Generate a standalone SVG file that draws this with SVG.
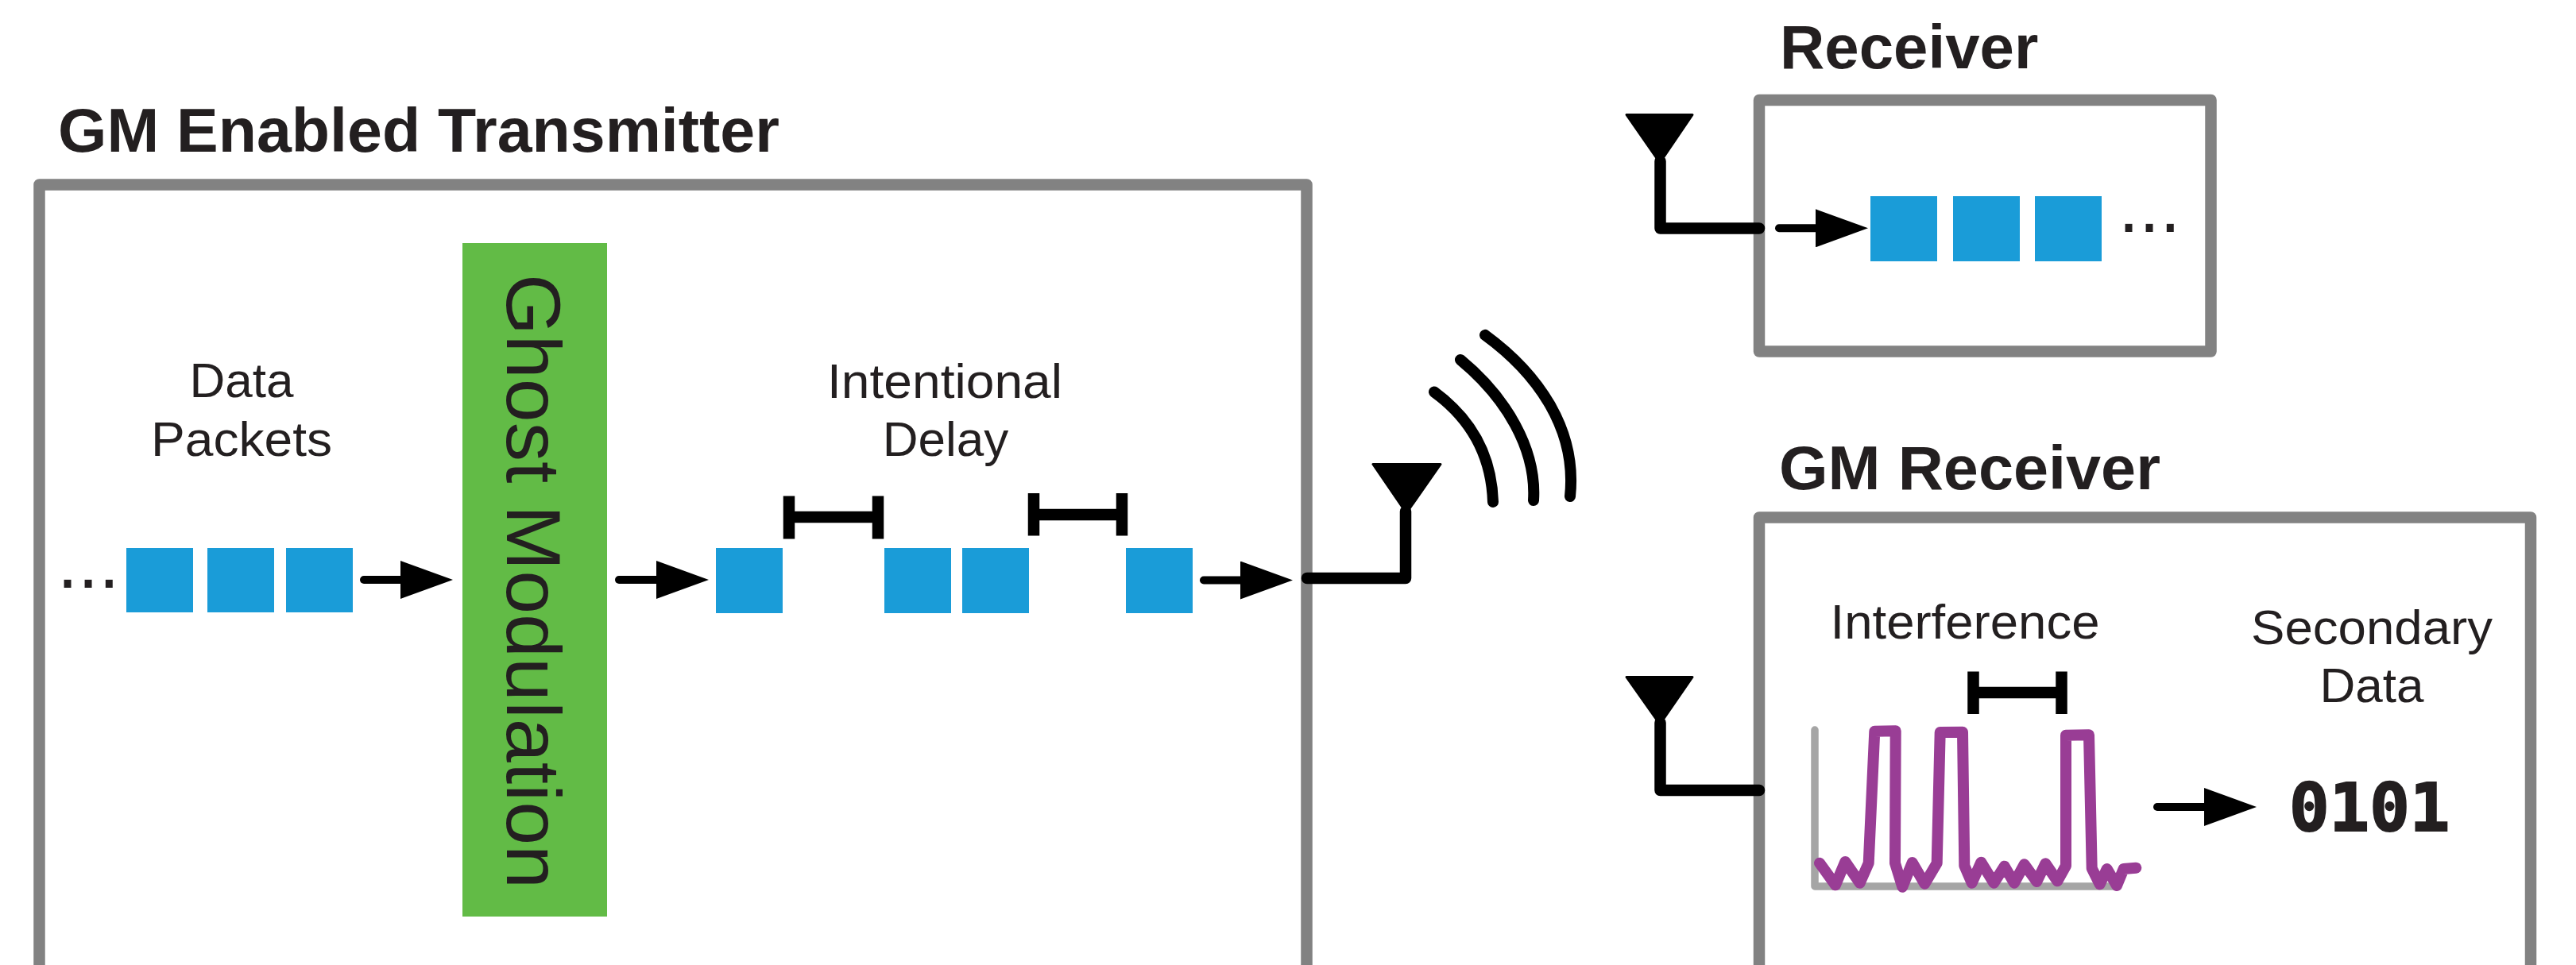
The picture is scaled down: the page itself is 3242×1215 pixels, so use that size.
<svg xmlns="http://www.w3.org/2000/svg" width="3242" height="1215" viewBox="0 0 3242 1215">
<style>
text{font-family:"Liberation Sans",Arial,sans-serif;fill:#231f20}
.t{font-weight:700;font-size:78px}
.l{font-size:62px;text-anchor:middle}
.box{fill:#fff;stroke:#828282;stroke-width:14.5;stroke-linejoin:round}
.pk{fill:#1a9cd8}
.ln{fill:none;stroke:#000;stroke-width:14.5;stroke-linejoin:round;stroke-linecap:round}
.ar{fill:none;stroke:#000;stroke-width:10;stroke-linecap:round;marker-end:url(#h)}
.br{fill:none;stroke:#000;stroke-width:14.5}
.tri{fill:#000;stroke:#000;stroke-width:3;stroke-linejoin:round}
.dots{font-size:94px}
</style>
<defs>
<marker id="h" markerUnits="userSpaceOnUse" markerWidth="66" markerHeight="48" refX="0" refY="24" orient="auto"><path d="M0 0L66 24L0 48Z" fill="#000"/></marker>
</defs>
<rect width="3242" height="1215" fill="#fff"/>
<g id="transmitter">
<text class="t" x="73" y="191" textLength="908" lengthAdjust="spacingAndGlyphs">GM Enabled Transmitter</text>
<path class="box" d="M49.5 1240V232.5H1644.5V1240"/>
</g>
<g id="receiver">
<text class="t" x="2240" y="86">Receiver</text>
<rect class="box" x="2214" y="126" width="568.5" height="316.5"/>
</g>
<g id="gm-receiver">
<text class="t" x="2239" y="616" textLength="480" lengthAdjust="spacingAndGlyphs">GM Receiver</text>
<path class="box" d="M2214 1240V651.5H3185V1240"/>
</g>
<g id="data-packets">
<text class="l" x="304" y="500">Data</text>
<text class="l" x="304" y="574" textLength="228" lengthAdjust="spacingAndGlyphs">Packets</text>
<text class="dots" x="72" y="740">...</text>
<rect class="pk" x="159" y="690" width="84" height="81"/>
<rect class="pk" x="261" y="690" width="84" height="81"/>
<rect class="pk" x="360" y="690" width="84" height="81"/>
</g>
<g id="ghost-modulation">
<rect x="582" y="306" width="182" height="848" fill="#62bb46"/>
<text x="638" y="345" transform="rotate(90 638 345)" style="font-size:97px" textLength="774" lengthAdjust="spacingAndGlyphs">Ghost Modulation</text>
</g>
<g id="delayed-packets">
<text class="l" x="1189" y="501" textLength="296" lengthAdjust="spacingAndGlyphs">Intentional</text>
<text class="l" x="1190" y="574">Delay</text>
<rect class="pk" x="901" y="690" width="84" height="82"/>
<rect class="pk" x="1113" y="690" width="84" height="82"/>
<rect class="pk" x="1211" y="690" width="84" height="82"/>
<rect class="pk" x="1417" y="690" width="84" height="82"/>
<path class="br" d="M993 624.5V678.6M1105 624.5V678.6M993 651H1105"/>
<path class="br" d="M1301 621V674.4M1412 621V674.4M1301 648H1412"/>
</g>
<g id="tx-antenna">
<path class="tri" d="M1728 584.500H1813L1770 646Z"/>
<path d="M1805 493.500C1848 525 1877 570 1879 632M1838 453C1895 500 1934 565 1930 630M1869 421.800C1935 470 1985 540 1976 625" fill="none" stroke="#000" stroke-width="14" stroke-linecap="round"/>
</g>
<g id="rx-packets">
<rect class="pk" x="2354" y="247" width="84" height="82"/>
<rect class="pk" x="2458" y="247" width="84" height="82"/>
<rect class="pk" x="2561" y="247" width="84" height="82"/>
<text class="dots" x="2666" y="292">...</text>
</g>
<g id="rx-antenna"><path class="tri" d="M2047 144.500H2130L2089 205Z"/></g>
<g id="gm-antenna"><path class="tri" d="M2047 852.500H2130L2089 912Z"/></g>
<g id="interference">
<text class="l" x="2473" y="804" textLength="339" lengthAdjust="spacingAndGlyphs">Interference</text>
<path d="M2284 919V1116H2663" fill="none" stroke="#a5a5a5" stroke-width="9.500" stroke-linecap="round" stroke-linejoin="round"/>
<path d="M2290 1086.700L2310 1114.300L2322.300 1085L2340.700 1111.700L2351.700 1086.700L2359.300 920.700L2385.700 920.300L2385 1086.700L2394.300 1116.700L2406.700 1086L2422.300 1112.700L2437.700 1086.700L2441.700 922L2470 921.700L2472.300 1090L2481.700 1111.700L2493.300 1085.700L2509.300 1111.700L2522.700 1090.700L2535 1111.700L2547.700 1088.300L2563.300 1110L2574.300 1087.300L2589.300 1109.300L2600 1090L2600 925.700L2629 925.300L2632.700 1093.300L2642.700 1113.300L2651.700 1094L2664 1115L2672.700 1094L2688.300 1092.700" fill="none" stroke="#993d95" stroke-width="14" stroke-linecap="round" stroke-linejoin="round"/>
<path class="br" d="M2483.500 845.600V899M2594.500 845.600V899M2483.500 872H2594.500"/>
</g>
<g id="secondary-data">
<text class="l" x="2985" y="811" textLength="304" lengthAdjust="spacingAndGlyphs">Secondary</text>
<text class="l" x="2985" y="884">Data</text>
<text x="2881" y="1046" style="font-family:'DejaVu Sans Mono',monospace;font-weight:700;font-size:84px;stroke:#231f20;stroke-width:2">0101</text>
</g>
<g id="connectors">
<path class="ar" d="M458 730H504"/>
<path class="ar" d="M779 730H826"/>
<path class="ar" d="M1515 730.500H1561"/>
<path class="ar" d="M2239 287.300H2285"/>
<path class="ar" d="M2715 1016H2774"/>
<path class="ln" d="M1645 728H1769V644"/>
<path class="ln" d="M2089.500 203V287.500H2214"/>
<path class="ln" d="M2089.500 910V995H2214"/>
</g>
</svg>
